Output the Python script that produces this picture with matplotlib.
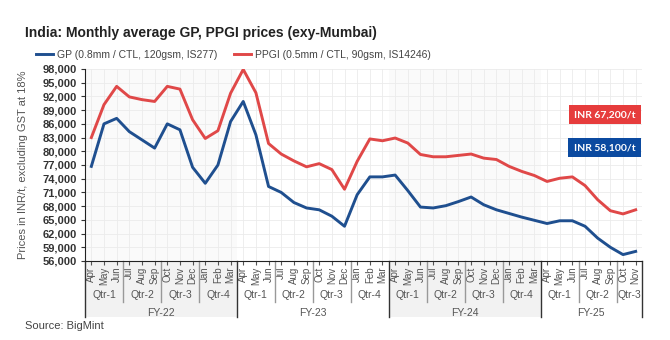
import matplotlib.pyplot as plt
import matplotlib.transforms as mtransforms
from matplotlib.lines import Line2D
from matplotlib.patches import Rectangle

# Monthly prices, Apr FY-22 .. Nov FY-25 (INR/t)
months = ['Apr', 'May', 'Jun', 'Jul', 'Aug', 'Sep', 'Oct', 'Nov', 'Dec', 'Jan', 'Feb', 'Mar'] * 3 + \
         ['Apr', 'May', 'Jun', 'Jul', 'Aug', 'Sep', 'Oct', 'Nov']
fiscal_years = ['FY-22', 'FY-23', 'FY-24', 'FY-25']

gp = [76700, 86000, 87200, 84300, 82500, 80700, 86000, 84700, 76500, 73000, 77000, 86500,
      90900, 83600, 72300, 71000, 68800, 67600, 67200, 65800, 63600, 70500, 74400, 74400,
      74800, 71400, 67800, 67600, 68100, 69000, 70000, 68300, 67200, 66400, 65600, 64900,
      64200, 64800, 64800, 63600, 61000, 59000, 57400, 58100]

ppgi = [83000, 90200, 94200, 91900, 91300, 90900, 94200, 93600, 86900, 82800, 84500, 92700,
        97900, 92800, 81700, 79400, 77900, 76600, 77300, 76000, 71700, 77800, 82700, 82300,
        82900, 81800, 79300, 78800, 78800, 79100, 79400, 78500, 78200, 76700, 75600, 74700,
        73400, 74100, 74400, 72500, 69400, 67000, 66300, 67200]

gp_label = 'GP (0.8mm / CTL, 120gsm, IS277)'
ppgi_label = 'PPGI (0.5mm / CTL, 90gsm, IS14246)'

BLUE = '#1f4f8f'
RED = '#e04848'
BOX_BLUE = '#0b4aa0'
BOX_RED = '#e63c3c'

plt.rcParams['font.family'] = ['Liberation Sans Narrow', 'Liberation Sans', 'DejaVu Sans']

fig = plt.figure(figsize=(6.7, 3.4), dpi=100)
ax = fig.add_axes([85 / 670, 1 - 261 / 340, 557 / 670, 192 / 340])

n = len(months)
x = list(range(n))

# faint shading for alternate fiscal years
for start in (0, 24):
    ax.axvspan(start - 0.5, start + 11.5, color='#fafafa', zorder=0, lw=0)

ax.plot(x, gp, color=BLUE, lw=2.1, solid_joinstyle='round', zorder=3)
ax.plot(x, ppgi, color=RED, lw=2.1, solid_joinstyle='round', zorder=3)

ax.set_xlim(-0.5, n - 0.5)
ax.set_ylim(56000, 98000)
yt = list(range(56000, 98001, 3000))
ax.set_yticks(yt)
ax.set_yticklabels([f'{v:,}' for v in yt], fontsize=8, fontweight='bold', color='#333333')
ax.set_xticks(x)
ax.set_xticklabels(months, rotation=90, fontsize=7, color='#555555')
ax.tick_params(axis='x', length=3, pad=1, color='#555555')
ax.tick_params(axis='y', length=3, pad=3, color='#333333')

ax.grid(True, color='#ebebeb', lw=0.6, zorder=1)
ax.set_axisbelow(True)
for side in ('top', 'right'):
    ax.spines[side].set_visible(False)
ax.spines['left'].set_color('#222222')
ax.spines['bottom'].set_color('#222222')

# category axis below the plot: quarters and fiscal years
trans = mtransforms.blended_transform_factory(ax.transData, ax.transAxes)
for start in (0, 24):
    ax.add_patch(Rectangle((start - 0.5, -0.292), 12, 0.292, transform=trans,
                           facecolor='#f2f2f2', edgecolor='none', clip_on=False, zorder=0))

for q0 in range(0, n, 3):
    idx = [i for i in range(q0, min(q0 + 3, n))]
    qnum = (q0 // 3) % 4 + 1
    ax.text(sum(idx) / len(idx), -0.177, f'Qtr-{qnum}', transform=trans,
            ha='center', va='center', fontsize=7.5, color='#555555')
    if q0 % 12 != 0:
        ax.add_line(Line2D([q0 - 0.5, q0 - 0.5], [0, -0.214], transform=trans,
                           color='#999999', lw=1, clip_on=False))

for k, fy in enumerate(fiscal_years):
    idx = list(range(12 * k, min(12 * k + 12, n)))
    ax.text(sum(idx) / len(idx), -0.27, fy, transform=trans,
            ha='center', va='center', fontsize=7.5, color='#555555')
for b in (-0.5, 11.5, 23.5, 35.5, n - 0.5):
    ax.add_line(Line2D([b, b], [0, -0.292], transform=trans,
                       color='#333333', lw=1, clip_on=False))

# latest-value tags
ax.text(0.988, 0.762, f'INR {ppgi[-1]:,}/t', transform=ax.transAxes, ha='right', va='center',
        fontsize=7.5, fontweight='bold', color='white', family=['Lato', 'DejaVu Sans'],
        bbox=dict(boxstyle='square,pad=0.5', facecolor=BOX_RED, edgecolor='none'), zorder=5)
ax.text(0.988, 0.590, f'INR {gp[-1]:,}/t', transform=ax.transAxes, ha='right', va='center',
        fontsize=7.5, fontweight='bold', color='white', family=['Lato', 'DejaVu Sans'],
        bbox=dict(boxstyle='square,pad=0.5', facecolor=BOX_BLUE, edgecolor='none'), zorder=5)

fig.text(25 / 670, 1 - 33 / 340, 'India: Monthly average GP, PPGI prices (exy-Mumbai)',
         fontsize=10, fontweight='bold', color='#222222', va='center')

handles = [Line2D([], [], color=BLUE, lw=2.1), Line2D([], [], color=RED, lw=2.1)]
fig.legend(handles, [gp_label, ppgi_label], loc='center left',
           bbox_to_anchor=(36 / 670, 1 - 55 / 340), ncol=2, frameon=False,
           fontsize=7.5, handlelength=1.6, handletextpad=0.4, columnspacing=1.6,
           borderpad=0, borderaxespad=0, labelcolor='#444444')

fig.text(23 / 670, 1 - 165 / 340, 'Prices in INR/t, excluding GST at 18%', rotation=90,
         fontsize=8, color='#555555', ha='center', va='center')
fig.text(25 / 670, 1 - 326 / 340, 'Source: BigMint', fontsize=8, color='#444444', va='center')

fig.savefig('out.png', dpi=100, facecolor='white')
